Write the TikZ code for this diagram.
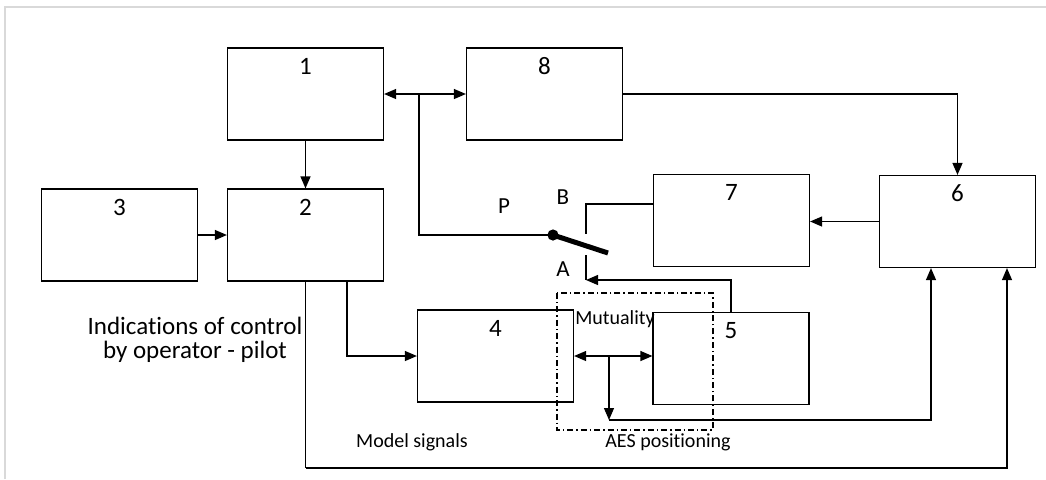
\documentclass[tikz,border=0pt]{standalone}
\usepackage{fontspec}
\setmainfont[Ligatures=NoCommon]{Carlito}
\usetikzlibrary{arrows.meta}

\begin{document}
\begin{tikzpicture}[x=0.5pt,y=-0.5pt,line width=0.6pt,
  >={Triangle[length=6pt,width=5pt]},
  blk/.style={draw,minimum width=78pt,inner xsep=0pt,inner ysep=4pt,
    text height=9pt,text depth=29pt,font=\fontsize{12.5pt}{14pt}\selectfont},
  lbl/.style={inner sep=0pt,font=\fontsize{10pt}{12pt}\selectfont},
  sw/.style={inner sep=0pt,font=\fontsize{11.5pt}{13pt}\selectfont}]
\useasboundingbox (0,0) rectangle (1046,479);
\draw[black!15,line width=1pt] (5,479) -- (5,7) -- (1046,7);
\foreach \n/\x/\y in {1/305.5/94,8/544.5/94,3/119.5/235,2/305.5/235,
  7/731.5/220.5,6/957.5/221.5,4/495.5/356,5/731/358.5}
  {\node[blk] (b\n) at (\x,\y) {\n};}
\coordinate (tap) at (419,94);
\coordinate (pv) at (553,235);
\coordinate (lv) at (608,253);
\coordinate (cB) at (586,234);
\coordinate (cA) at (586,255);
\coordinate (cC) at (586,280);
\coordinate (mj) at (609,356);
\coordinate (mb) at (609,420);
\coordinate (lo) at (305.5,468);
\draw[<->] (b1) -- (b8);
\draw (tap) |- (pv);
\draw[line width=2.5pt] (pv) -- (lv);
\fill (pv) circle (2.8pt);
\draw[->] (b1) -- (b2);
\draw[->] (b3) -- (b2);
\draw[->] (b8.east) -| (b6.north);
\draw[->] (b6.west) -- (b6.west -| b7.east);
\draw ([yshift=8.25pt]b7.west) -| (cB);
\draw (cA) -- (cC);
\draw[->] (b5.north) |- (cC);
\draw[->] ([xshift=20.75pt]b2.south) |- (b4.west);
\draw[<->] (b4.east) -- (b4.east -| b5.west);
\draw[->] (mj) -- (mb);
\draw[->] (mb) -| ([xshift=-13.25pt]b6.south);
\draw (b2.south) -- (lo);
\draw[->] (lo) -| ([xshift=24.75pt]b6.south);
\draw[dash pattern=on 3pt off 1.5pt on 0.7pt off 1.5pt] (557,293) rectangle (713,430);
\node[lbl] (mu) at (615,319) {Mutuality};
\node[sw] (tP) at (504,206) {P};
\node[sw] (tB) at (563,197) {B};
\node[sw] (tA) at (563,269) {A};
\node[lbl] (ms) at (412,442) {Model signals};
\node[lbl] (aes) at (668,442) {AES positioning};
\node[lbl,align=center,font=\fontsize{12.5pt}{12pt}\selectfont] (ind) at (195,340)
  {Indications of control\\by operator - pilot};
\end{tikzpicture}
\end{document}
